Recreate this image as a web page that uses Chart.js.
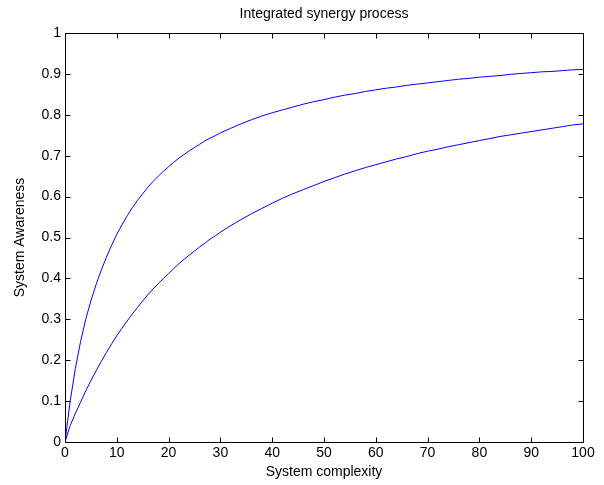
<!DOCTYPE html>
<html>
<head>
<meta charset="utf-8">
<script src="https://cdn.jsdelivr.net/npm/chart.js@4/dist/chart.umd.min.js"></script>
<style>
  html, body { margin: 0; padding: 0; background: #fff; }
  #wrap { width: 604px; height: 485px; }
</style>
</head>
<body>
<div id="wrap"><canvas id="chart" width="604" height="485"></canvas></div>
<script>
// x positions
const xValues = [0, 1, 2, 3, 4, 5, 6, 7, 8, 9, 10, 11, 12, 13, 14, 15, 16, 17, 18, 19, 20,
  21, 22, 23, 24, 25, 26, 27, 28, 29, 30, 32, 34, 36, 38, 40,
  42, 44, 46, 48, 50, 52, 54, 56, 58, 60, 62, 64, 66, 68, 70, 72, 74, 76, 78, 80,
  82, 84, 86, 88, 90, 92, 94, 96, 98, 100];

// upper curve
const upperCurve = [0, 0.10, 0.18, 0.245, 0.30, 0.345, 0.385, 0.42, 0.452, 0.481, 0.508,
  0.531, 0.553, 0.573, 0.591, 0.607, 0.623, 0.637, 0.65, 0.662, 0.673,
  0.684, 0.694, 0.703, 0.712, 0.72, 0.728, 0.736, 0.743, 0.749, 0.756,
  0.767, 0.778, 0.788, 0.797, 0.805,
  0.812, 0.819, 0.826, 0.832, 0.837, 0.843, 0.848, 0.852, 0.857, 0.861,
  0.865, 0.868, 0.872, 0.875, 0.878, 0.881, 0.884, 0.887, 0.889, 0.892,
  0.894, 0.896, 0.899, 0.901, 0.903, 0.905, 0.906, 0.908, 0.91, 0.911];

// lower curve
const lowerCurve = [0, 0.04, 0.07, 0.097, 0.125, 0.15, 0.174, 0.197, 0.219, 0.24, 0.26,
  0.278, 0.296, 0.313, 0.329, 0.345, 0.36, 0.374, 0.387, 0.4, 0.412,
  0.424, 0.436, 0.447, 0.457, 0.467, 0.477, 0.486, 0.496, 0.504, 0.513,
  0.529, 0.544, 0.558, 0.571, 0.584,
  0.596, 0.607, 0.617, 0.627, 0.637, 0.646, 0.655, 0.663, 0.671, 0.678,
  0.685, 0.692, 0.698, 0.705, 0.711, 0.716, 0.722, 0.727, 0.732, 0.737,
  0.742, 0.747, 0.751, 0.755, 0.759, 0.763, 0.767, 0.771, 0.775, 0.778];

const xTicks = [0, 10, 20, 30, 40, 50, 60, 70, 80, 90, 100];
const yTicks = [0, 0.1, 0.2, 0.3, 0.4, 0.5, 0.6, 0.7, 0.8, 0.9, 1];

const FONT = 'Liberation Sans, Arial, Helvetica, sans-serif';

function toPoints(ys) {
  return xValues.map((x, i) => ({ x: x, y: ys[i] }));
}

// matlab-like box with inward ticks on all four sides
const boxPlugin = {
  id: 'box',
  afterDraw(chart) {
    const ctx = chart.ctx;
    const a = chart.chartArea;
    const xs = chart.scales.x, ys = chart.scales.y;
    const L = Math.round(a.left) + 0.5, R = Math.round(a.right) + 0.5;
    const T = Math.round(a.top) + 0.5, B = Math.round(a.bottom) + 0.5;
    const len = 5;
    ctx.save();
    ctx.strokeStyle = '#000';
    ctx.lineWidth = 1;
    ctx.beginPath();
    ctx.rect(L, T, R - L, B - T);
    xTicks.forEach(v => {
      const px = Math.round(xs.getPixelForValue(v)) + 0.5;
      ctx.moveTo(px, B); ctx.lineTo(px, B - len);
      ctx.moveTo(px, T); ctx.lineTo(px, T + len);
    });
    yTicks.forEach(v => {
      const py = Math.round(ys.getPixelForValue(v)) + 0.5;
      ctx.moveTo(L, py); ctx.lineTo(L + len, py);
      ctx.moveTo(R, py); ctx.lineTo(R - len, py);
    });
    ctx.stroke();
    ctx.restore();
  }
};

new Chart(document.getElementById('chart'), {
  type: 'line',
  data: {
    datasets: [
      { data: toPoints(upperCurve), borderColor: '#0000ff', borderWidth: 1, pointRadius: 0, tension: 0, fill: false },
      { data: toPoints(lowerCurve), borderColor: '#0000ff', borderWidth: 1, pointRadius: 0, tension: 0, fill: false }
    ]
  },
  options: {
    responsive: false,
    animation: false,
    layout: { padding: { left: 0, right: 21, top: 0, bottom: 0 } },
    plugins: {
      legend: { display: false },
      tooltip: { enabled: false },
      title: {
        display: true,
        text: 'Integrated synergy process',
        color: '#000',
        fullSize: false,
        font: { family: FONT, size: 14, weight: 'normal', lineHeight: 1.2 },
        padding: { top: 6, bottom: 10.2 }
      }
    },
    scales: {
      x: {
        type: 'linear',
        min: 0, max: 100,
        afterFit(s) { s.height = 43; },
        afterBuildTicks(s) { s.ticks = xTicks.map(v => ({ value: v })); },
        grid: { display: false, drawTicks: false },
        border: { display: false },
        ticks: { color: '#000', padding: 3, maxRotation: 0, font: { family: FONT, size: 14 } },
        title: {
          display: true, text: 'System complexity', color: '#000',
          font: { family: FONT, size: 14 }, padding: { top: 0, bottom: 4 }
        }
      },
      y: {
        type: 'linear',
        min: 0, max: 1,
        afterFit(s) { s.width = 65; },
        afterBuildTicks(s) { s.ticks = yTicks.map(v => ({ value: v })); },
        grid: { display: false, drawTicks: false },
        border: { display: false },
        ticks: { color: '#000', padding: 4, font: { family: FONT, size: 14 },
          callback: v => String(Math.round(v * 10) / 10) },
        title: {
          display: true, text: 'System Awareness', color: '#000',
          font: { family: FONT, size: 14 }, padding: { top: 12, bottom: 0 }
        }
      }
    }
  },
  plugins: [boxPlugin]
});
</script>
</body>
</html>
